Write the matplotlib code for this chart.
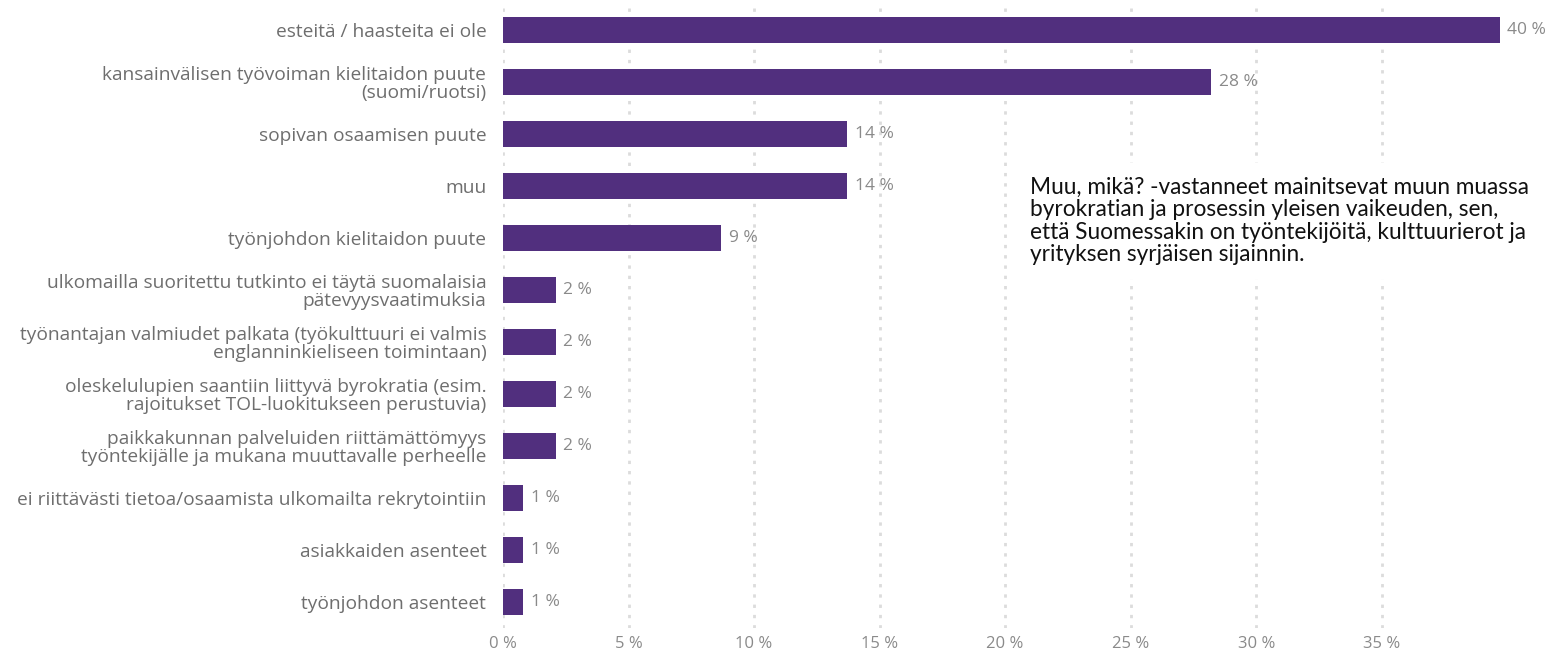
import matplotlib.pyplot as plt
import numpy as np

# data
categories = [
    "esteitä / haasteita ei ole",
    "kansainvälisen työvoiman kielitaidon puute\n(suomi/ruotsi)",
    "sopivan osaamisen puute",
    "muu",
    "työnjohdon kielitaidon puute",
    "ulkomailla suoritettu tutkinto ei täytä suomalaisia\npätevyysvaatimuksia",
    "työnantajan valmiudet palkata (työkulttuuri ei valmis\nenglanninkieliseen toimintaan)",
    "oleskelulupien saantiin liittyvä byrokratia (esim.\nrajoitukset TOL-luokitukseen perustuvia)",
    "paikkakunnan palveluiden riittämättömyys\ntyöntekijälle ja mukana muuttavalle perheelle",
    "ei riittävästi tietoa/osaamista ulkomailta rekrytointiin",
    "asiakkaiden asenteet",
    "työnjohdon asenteet",
]
values = [39.7, 28.2, 13.7, 13.7, 8.7, 2.1, 2.1, 2.1, 2.1, 0.8, 0.8, 0.8]
value_labels = ["40 %", "28 %", "14 %", "14 %", "9 %", "2 %", "2 %", "2 %", "2 %", "1 %", "1 %", "1 %"]
xticks = [0, 5, 10, 15, 20, 25, 30, 35]
note = ("Muu, mikä? -vastanneet mainitsevat muun muassa\n"
        "byrokratian ja prosessin yleisen vaikeuden, sen,\n"
        "että Suomessakin on työntekijöitä, kulttuurierot ja\n"
        "yrityksen syrjäisen sijainnin.")

bar_color = "#512f7e"
label_color = "#6e6e6e"
num_font = ["Open Sans", "DejaVu Sans"]

fig = plt.figure(figsize=(15.55, 6.53), dpi=100)
ax = fig.add_axes([503 / 1555, 25 / 653, 1 - 503 / 1555, 624 / 653])

y = np.arange(len(categories))
ax.barh(y, values, height=0.5, color=bar_color, zorder=3)
ax.set_ylim(len(categories) - 0.5, -0.5)
ax.set_xlim(0, 41.9)

ax.set_yticks(y)
ax.set_yticklabels(categories, family="Open Sans", fontsize=13.8, color=label_color,
                   linespacing=1.0)
ax.set_xticks(xticks)
ax.set_xticklabels([f"{t} %" for t in xticks], family=num_font, fontsize=12, color="#8a8a8a")
ax.tick_params(axis="y", length=0, pad=12)
ax.tick_params(axis="x", length=0, pad=6)

for yi, v, lab in zip(y, values, value_labels):
    ax.text(v + 0.3, yi, lab, va="center", ha="left", family=num_font,
            fontsize=12.5, color="#8a8a8a", zorder=4)

ax.grid(axis="x", color="#dcdcdc", linestyle=(0, (1.2, 2.5)), linewidth=2, zorder=0)
ax.grid(axis="y", visible=False)
for s in ax.spines.values():
    s.set_visible(False)

# side note, partly running past the right edge as in the reference
fig.text(1030 / 1555, 1 - 177 / 653, note, ha="left", va="top", family=["Lato", "DejaVu Sans"],
         fontsize=16.3, color="#111111", linespacing=1.08,
         bbox=dict(facecolor="white", edgecolor="none", pad=10), zorder=5)

fig.savefig("out.png", dpi=100)
